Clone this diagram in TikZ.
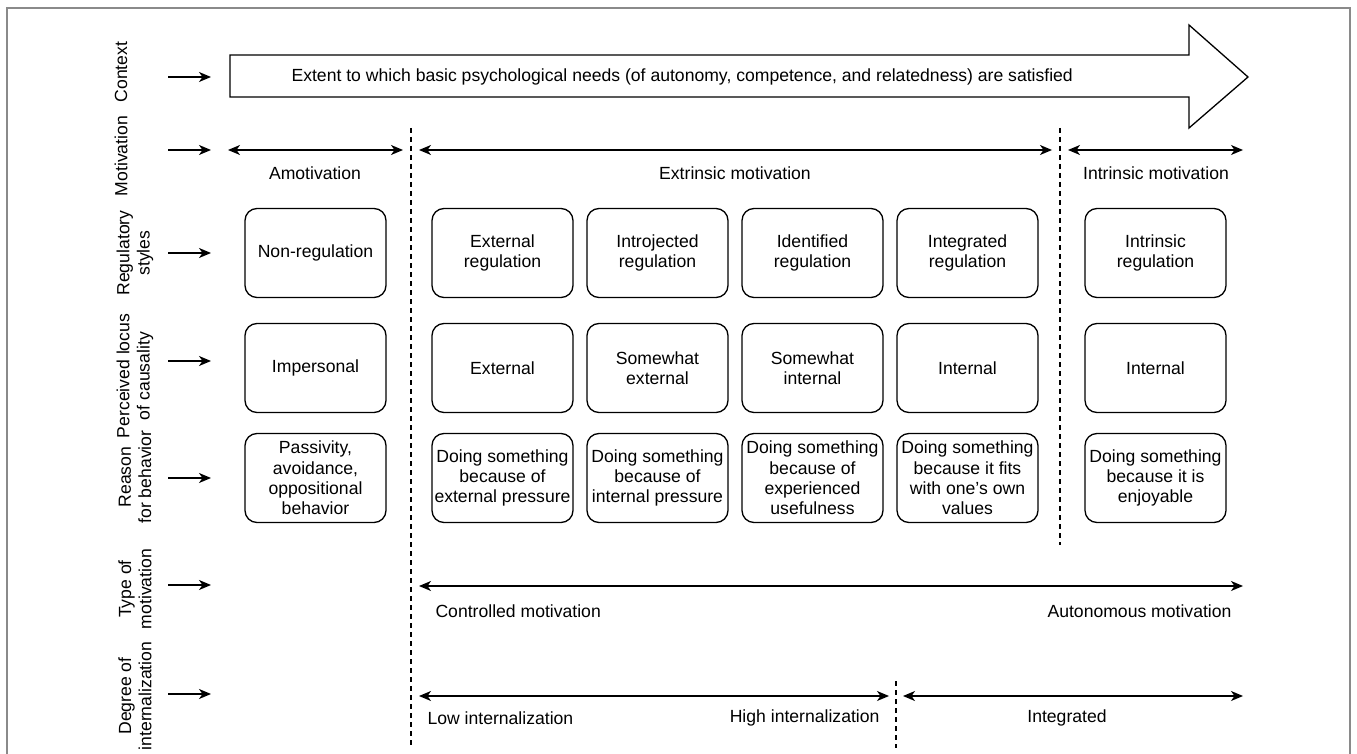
\documentclass[tikz,border=0pt]{standalone}
\usepackage{fontspec}
\setmainfont{Liberation Sans}
\usetikzlibrary{arrows.meta}
\definecolor{cadregris}{HTML}{8A8A8A}

\begin{document}
\begin{tikzpicture}[
  x=1pt, y=-1pt,
  font=\fontsize{17.6}{20.3}\selectfont,
  cadre/.style={draw, rounded corners=12pt, line width=1.3pt, align=center,
                minimum width=141pt, minimum height=89pt, inner sep=1pt},
  lig/.style={rotate=90, align=center},
  fl/.style={-{Stealth[length=12pt, width=10pt, inset=3.5pt]}, line width=1.3pt},
  dfl/.style={{Stealth[length=12pt, width=10pt, inset=3.5pt]}-{Stealth[length=12pt, width=10pt, inset=3.5pt]}, line width=1.3pt},
  tiret/.style={dashed, dash pattern=on 5pt off 4pt, line width=1.1pt},
]
\useasboundingbox (0,0) rectangle (1357,754);
% le cadre
\draw[cadregris, line width=1.5pt] (7,754) -- (7,8) -- (1350,8) -- (1350,754);

% les libellés de ligne
\node[lig] (lctx) at (121,72) {Context};
\node[lig] (lmot) at (121,156) {Motivation};
\node[lig] (lreg) at (135,253) {Regulatory\\styles};
\node[lig] (lloc) at (135,376) {Perceived locus\\of causality};
\node[lig] (lrea) at (135,477) {Reason\\for behavior};
\node[lig] (ltyp) at (135,589) {Type of\\motivation};
\node[lig] (ldeg) at (135,696) {Degree of\\internalization};

% les petites flèches
\coordinate (f1a) at (168,77);  \coordinate (f1b) at (211,77);
\coordinate (f2a) at (168,150); \coordinate (f2b) at (211,150);
\coordinate (f3a) at (168,253); \coordinate (f3b) at (211,253);
\coordinate (f4a) at (168,361); \coordinate (f4b) at (211,361);
\coordinate (f5a) at (168,478); \coordinate (f5b) at (211,478);
\coordinate (f6a) at (168,585); \coordinate (f6b) at (211,585);
\coordinate (f7a) at (168,694); \coordinate (f7b) at (211,694);
\draw[fl] (f1a) -- (f1b);
\draw[fl] (f2a) -- (f2b);
\draw[fl] (f3a) -- (f3b);
\draw[fl] (f4a) -- (f4b);
\draw[fl] (f5a) -- (f5b);
\draw[fl] (f6a) -- (f6b);
\draw[fl] (f7a) -- (f7b);

% la grande flèche du contexte
\draw[line width=1.3pt, line join=miter]
  (230,55) -- (1189,55) -- (1189,25) -- (1248,77) -- (1189,128)
  -- (1189,97) -- (230,97) -- cycle;
\node[anchor=west] (besoins) at (288,77)
  {Extent to which basic psychological needs (of autonomy, competence, and relatedness) are satisfied};

% les séparateurs
\coordinate (s1h) at (411,128); \coordinate (s1b) at (411,748);
\coordinate (s2h) at (1060,128); \coordinate (s2b) at (1060,545);
\coordinate (s3h) at (896,681); \coordinate (s3b) at (896,748);
\draw[tiret] (s1h) -- (s1b);
\draw[tiret] (s2h) -- (s2b);
\draw[tiret] (s3h) -- (s3b);

% motivation
\coordinate (m1a) at (228,150);  \coordinate (m1b) at (403,150);
\coordinate (m2a) at (419,150);  \coordinate (m2b) at (1052,150);
\coordinate (m3a) at (1068,150); \coordinate (m3b) at (1243,150);
\draw[dfl] (m1a) -- (m1b);
\draw[dfl] (m2a) -- (m2b);
\draw[dfl] (m3a) -- (m3b);
\node (amot) at (315,173) {Amotivation};
\node (extr) at (735,173) {Extrinsic motivation};
\node (intr) at (1156,173) {Intrinsic motivation};

% styles de régulation
\node[cadre] (reg1) at (315.5,253) {Non-regulation};
\node[cadre] (reg2) at (502.5,253) {External\\regulation};
\node[cadre] (reg3) at (657.5,253) {Introjected\\regulation};
\node[cadre] (reg4) at (812.5,253) {Identified\\regulation};
\node[cadre] (reg5) at (967.5,253) {Integrated\\regulation};
\node[cadre] (reg6) at (1155.5,253) {Intrinsic\\regulation};

% locus de causalité
\node[cadre] (loc1) at (315.5,368) {Impersonal};
\node[cadre] (loc2) at (502.5,368) {External};
\node[cadre] (loc3) at (657.5,368) {Somewhat\\external};
\node[cadre] (loc4) at (812.5,368) {Somewhat\\internal};
\node[cadre] (loc5) at (967.5,368) {Internal};
\node[cadre] (loc6) at (1155.5,368) {Internal};

% raisons
\node[cadre] (rai1) at (315.5,478) {Passivity,\\avoidance,\\oppositional\\behavior};
\node[cadre] (rai2) at (502.5,478) {Doing something\\because of\\external pressure};
\node[cadre] (rai3) at (657.5,478) {Doing something\\because of\\internal pressure};
\node[cadre] (rai4) at (812.5,478) {Doing something\\because of\\experienced\\usefulness};
\node[cadre] (rai5) at (967.5,478) {Doing something\\because it fits\\with one's own\\values};
\node[cadre] (rai6) at (1155.5,478) {Doing something\\because it is\\enjoyable};

% type de motivation
\coordinate (t1a) at (419,586); \coordinate (t1b) at (1243,586);
\draw[dfl] (t1a) -- (t1b);
\node[anchor=west] (ctrl) at (432,611) {Controlled motivation};
\node[anchor=east] (auto) at (1235,611) {Autonomous motivation};

% degré d'intériorisation
\coordinate (d1a) at (419,696); \coordinate (d1b) at (889,696);
\coordinate (d2a) at (903,696); \coordinate (d2b) at (1243,696);
\draw[dfl] (d1a) -- (d1b);
\draw[dfl] (d2a) -- (d2b);
\node[anchor=west] (bas) at (424,718) {Low internalization};
\node[anchor=east] (haut) at (883,718) {High internalization};
\node (integ) at (1067,718) {Integrated};
\end{tikzpicture}
\end{document}
